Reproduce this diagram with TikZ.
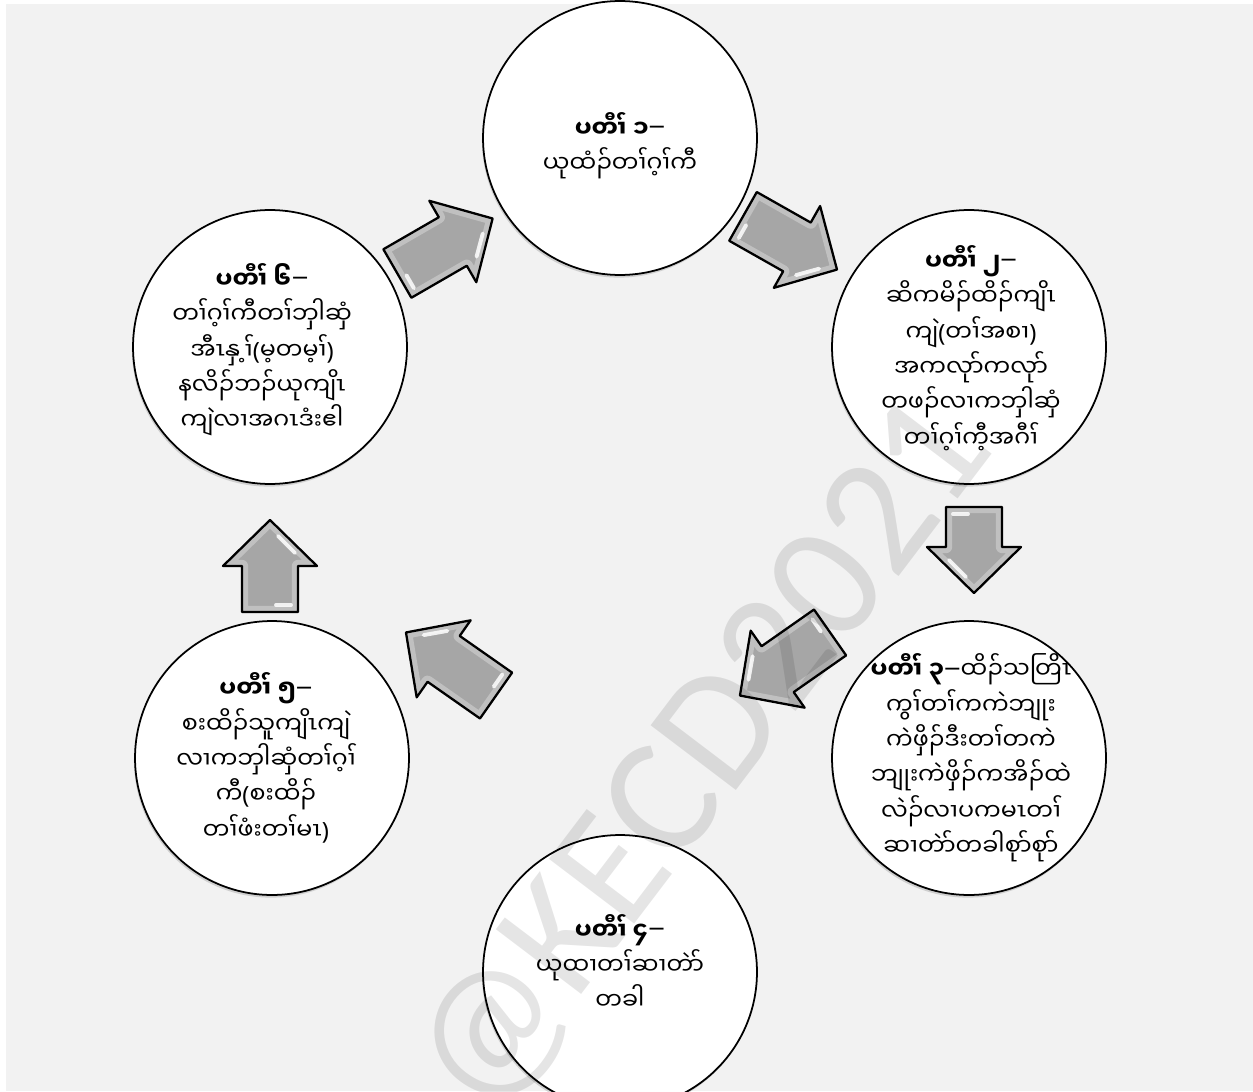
\documentclass[tikz,border=0pt]{standalone}
\usepackage{fontspec}
\newfontfamily\karenfont[Script=Myanmar]{Noto Sans Myanmar UI}
\newfontfamily\latinfont{Noto Sans}
\newfontfamily\markfont{Carlito}
\usetikzlibrary{calc,shadows}
\definecolor{backgrey}{HTML}{F2F2F2}
\definecolor{arrowgrey}{HTML}{A6A6A6}
\newcommand\kopen{{\latinfont(}}
\newcommand\kclose{{\latinfont)}}
\newcommand\kdash{\raisebox{0.3ex}{\scalebox{1.4}[1]{\latinfont–}}}
\def\stepcircle{\node[circle,draw=black,line width=1pt,fill=white,minimum size=5.48cm,
  drop shadow={shadow xshift=-0.6pt,shadow yshift=-1.5pt,opacity=0.3}]}
\def\steptext{\node[align=center,font=\karenfont\fontsize{13.5}{20.1}\selectfont]}
\def\arrowshape#1{(-#1,-28) -- (#1-46,-28) -- (#1-46,-47) -- (#1,0) -- (#1-46,47) -- (#1-46,28) -- (-#1,28) -- cycle}
\def\greyarrow#1#2#3{%
  \begin{scope}[shift={#1},rotate=#2]
    \fill[arrowgrey] \arrowshape{#3};
    \begin{scope}
      \clip \arrowshape{#3};
      \draw[white,opacity=0.3,line width=7pt,line join=round] \arrowshape{#3};
    \end{scope}
    \draw[white,opacity=0.85,line width=2.2pt,line cap=round] (-#3+7,6) -- (-#3+7,21);
    \draw[white,opacity=0.85,line width=2.2pt,line cap=round] (#3-16,8) -- (#3-33,25);
    \draw[line width=1.3pt,line join=round] \arrowshape{#3};
  \end{scope}}

\begin{document}
\begin{tikzpicture}[x=0.02cm,y=-0.02cm]
\useasboundingbox (0,0) rectangle (1253,1091);
\fill[backgrey] (6,4) rectangle (1253,1091);

% the six steps
\stepcircle (step1) at (620,138) {};
\stepcircle (step2) at (969,347) {};
\stepcircle (step3) at (969,758) {};
\stepcircle (step4) at (620,972) {};
\stepcircle (step5) at (272,758) {};
\stepcircle (step6) at (270,347) {};

\steptext (text1) at ($(step1)+(0,8)$) {\textbf{ပတီၢ် ၁\kdash}\\ယုထံၣ်တၢ်ဂ့ၢ်ကီ};
\steptext (text2) at ($(step2)+(2,1)$) {\textbf{ပတီၢ် ၂\kdash}\\ဆိကမိၣ်ထိၣ်ကျိၤ\\ကျဲ\kopen တၢ်အစၢ\kclose\\အကလုာ်ကလုာ်\\တဖၣ်လၢကဘှါဆှံ\\တၢ်ဂ့ၢ်ကီ့အဂီၢ်};
\steptext (text3) at ($(step3)+(2,0)$) {\textbf{ပတီၢ် ၃\kdash}ထိၣ်သတြိၤ\\ကွၢ်တၢ်ကကဲဘျုး\\ကဲဖှိၣ်ဒီးတၢ်တကဲ\\ဘျုးကဲဖှိၣ်ကအိၣ်ထဲ\\လဲၣ်လၢပကမၤတၢ်\\ဆၢတဲာ်တခါစုာ်စုာ်};
\steptext (text4) at ($(step4)+(0,-10)$) {\textbf{ပတီၢ် ၄\kdash}\\ယုထၢတၢ်ဆၢတဲာ်\\တခါ};
\steptext (text5) at ($(step5)+(-6,0)$) {\textbf{ပတီၢ် ၅\kdash}\\စးထိၣ်သူကျိၤကျဲ\\လၢကဘှါဆှံတၢ်ဂ့ၢ်\\ကီ\kopen စးထိၣ်\\တၢ်ဖံးတၢ်မၤ\kclose};
\steptext (text6) at ($(step6)+(-8,3)$) {\textbf{ပတီၢ် ၆\kdash}\\တၢ်ဂ့ၢ်ကီတၢ်ဘှါဆှံ\\အီၤနှ့ၢ်\kopen မ့တမ့ၢ်\kclose\\နလိၣ်ဘၣ်ယုကျိၤ\\ကျဲလၢအဂၤဒံးဧါ};

% arrows round the cycle
\greyarrow{(445,246)}{30}{55}
\greyarrow{(790,243)}{-29.5}{54}
\greyarrow{(974,550)}{-90}{43}
\greyarrow{(785,664)}{-145}{55}
\greyarrow{(451,664)}{145}{55}
\greyarrow{(270,566)}{90}{46}

\node[font=\markfont\fontsize{95}{95}\selectfont,text=black,opacity=0.1,rotate=52.8] (mark) at (705,758) {@KECD2021};
\end{tikzpicture}
\end{document}
